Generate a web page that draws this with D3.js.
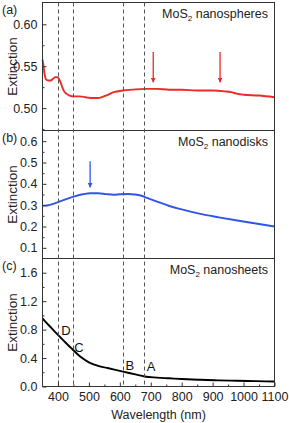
<!DOCTYPE html>
<html>
<head>
<meta charset="utf-8">
<script src="https://cdn.jsdelivr.net/npm/d3@7"></script>
<style>
  body { margin: 0; background: #fff; }
  svg text { font-family: "Liberation Sans", Arial, sans-serif; }
</style>
</head>
<body>
<svg id="chart" width="289" height="423"></svg>
<script>
// ---- data ----
const spheresWl  = [350, 353, 357, 362, 368, 376, 384, 392, 398, 403, 408, 414, 420, 428, 438, 450, 470, 490, 510, 530, 555, 580, 610, 640, 680, 720, 760, 800, 850, 900, 940, 960, 980, 1000, 1050, 1100];
const spheresExt = [0.558, 0.551, 0.540, 0.534, 0.533, 0.533, 0.535, 0.537, 0.537, 0.535, 0.531, 0.525, 0.520, 0.517, 0.515, 0.514, 0.514, 0.513, 0.512, 0.512, 0.515, 0.519, 0.521, 0.522, 0.523, 0.523, 0.522, 0.522, 0.521, 0.521, 0.520, 0.519, 0.517, 0.516, 0.515, 0.513];

const disksWl  = [350, 360, 370, 385, 400, 420, 450, 480, 505, 530, 555, 580, 600, 625, 650, 670, 690, 720, 760, 800, 860, 920, 980, 1040, 1100];
const disksExt = [0.298, 0.298, 0.300, 0.306, 0.314, 0.325, 0.340, 0.351, 0.356, 0.356, 0.352, 0.349, 0.351, 0.352, 0.350, 0.344, 0.333, 0.317, 0.296, 0.280, 0.259, 0.243, 0.228, 0.214, 0.200];

const sheetsWl  = [350, 360, 375, 400, 425, 450, 475, 500, 530, 560, 610, 650, 680, 720, 760, 800, 860, 920, 980, 1040, 1100];
const sheetsExt = [0.957, 0.91, 0.84, 0.725, 0.615, 0.51, 0.41, 0.34, 0.29, 0.26, 0.21, 0.17, 0.14, 0.125, 0.115, 0.105, 0.094, 0.086, 0.08, 0.075, 0.07];

const dashedWl = [400, 450, 610, 678];

// arrows: [wavelength, top value, tip value]
const redArrows  = [[708, 0.567, 0.531], [924, 0.567, 0.531]];
const blueArrows = [[504, 0.506, 0.384]];

// peak labels on the nanosheet curve
const peakNames = ["D", "C", "B", "A"];
const peakWl    = [426, 468, 632, 701];
const peakExt   = [0.723, 0.49, 0.234, 0.213];

const xTicks = [400, 500, 600, 700, 800, 900, 1000, 1100];

// ---- layout ----
const svg = d3.select("#chart");
const left = 42.5, right = 274.5;
const tops = [2.5, 130.5, 258.5];
const panelH = 128;

const x = d3.scaleLinear().domain([350, 1100]).range([left, right]);

const panels = [
    { tag: "(a)", name: "nanospheres", domain: [0.4733, 0.626], major: [0.50, 0.55, 0.60], minor: [0.475, 0.525, 0.575], fmt: d3.format(".2f"),
      wl: spheresWl, ext: spheresExt, color: "#ee2a24", arrows: redArrows },
    { tag: "(b)", name: "nanodisks", domain: [0.05, 0.65], major: [0.1, 0.2, 0.3, 0.4, 0.5, 0.6], minor: [0.15, 0.25, 0.35, 0.45, 0.55], fmt: d3.format(".1f"),
      wl: disksWl, ext: disksExt, color: "#2f56e8", arrows: blueArrows },
    { tag: "(c)", name: "nanosheets", domain: [0, 1.8], major: [0, 0.4, 0.8, 1.2, 1.6], minor: [0.2, 0.6, 1.0, 1.4], fmt: d3.format(".1f"),
      wl: sheetsWl, ext: sheetsExt, color: "#000", arrows: [] }
];

const defs = svg.append("defs");

panels.forEach((p, i) => {
    const top = tops[i];
    const y = d3.scaleLinear().domain(p.domain).range([top + panelH, top]);
    const g = svg.append("g");

    // curve
    const pts = p.wl.map((w, k) => [w, p.ext[k]]);
    g.append("path")
        .datum(pts)
        .attr("fill", "none")
        .attr("stroke", p.color)
        .attr("stroke-width", 1.9)
        .attr("d", d3.line().x(d => x(d[0])).y(d => y(d[1])).curve(d3.curveMonotoneX));

    // y axis, ticks pointing inward
    const yAxis = g.append("g").attr("transform", "translate(" + left + ",0)")
        .call(d3.axisLeft(y).tickValues(p.major).tickSize(-4).tickPadding(5).tickFormat(p.fmt));
    yAxis.select(".domain").remove();
    yAxis.selectAll("text").attr("font-size", "12.5px").attr("fill", "#222");
    yAxis.selectAll("line").attr("stroke", "#333");

    const yMinor = g.append("g").attr("transform", "translate(" + left + ",0)")
        .call(d3.axisLeft(y).tickValues(p.minor).tickSize(-2).tickFormat(""));
    yMinor.select(".domain").remove();
    yMinor.selectAll("line").attr("stroke", "#333");

    // arrows
    p.arrows.forEach((a, k) => {
        const id = "head" + i + "_" + k;
        defs.append("marker")
            .attr("id", id)
            .attr("viewBox", "0 0 10 10")
            .attr("refX", 9).attr("refY", 5)
            .attr("markerWidth", 5).attr("markerHeight", 5)
            .attr("markerUnits", "userSpaceOnUse")
            .attr("orient", "auto")
            .append("path").attr("d", "M0,0L10,5L0,10Z").attr("fill", p.color);
        g.append("line")
            .attr("x1", x(a[0])).attr("x2", x(a[0]))
            .attr("y1", y(a[1])).attr("y2", y(a[2]))
            .attr("stroke", p.color).attr("stroke-width", 1.3)
            .attr("marker-end", "url(#" + id + ")");
    });

    // panel tag and sample name
    svg.append("text").attr("x", 2).attr("y", top + 11)
        .attr("font-size", "12.5px").attr("fill", "#222").text(p.tag);
    const t = svg.append("text").attr("x", 268).attr("y", top + 15)
        .attr("text-anchor", "end").attr("font-size", "12.5px").attr("fill", "#222");
    t.append("tspan").text("MoS");
    t.append("tspan").attr("font-size", "8px").attr("dy", 3).text("2");
    t.append("tspan").attr("dy", -3).text(" " + p.name);

    // y title
    svg.append("text")
        .attr("transform", "translate(16.5," + (top + panelH / 2) + ") rotate(-90)")
        .attr("text-anchor", "middle").attr("font-size", "13.5px").attr("fill", "#222")
        .text("Extinction");

    // frame
    svg.append("rect")
        .attr("x", left).attr("y", top).attr("width", right - left).attr("height", panelH)
        .attr("fill", "none").attr("stroke", "#333").attr("stroke-width", 1);

    if (i === 2) {
        peakNames.forEach((n, k) => {
            svg.append("text").attr("x", x(peakWl[k])).attr("y", y(peakExt[k]))
                .attr("text-anchor", "middle").attr("font-size", "13px").attr("fill", "#111").text(n);
        });
    }
});

// dashed guide lines across all panels
svg.append("g").selectAll("line")
    .data(dashedWl)
    .join("line")
    .attr("x1", d => Math.round(x(d)) + 0.5).attr("x2", d => Math.round(x(d)) + 0.5)
    .attr("y1", tops[0]).attr("y2", tops[2] + panelH)
    .attr("stroke", "#555").attr("stroke-width", 1).attr("stroke-dasharray", "4,3");

// bottom x axis
const bottom = tops[2] + panelH;
const xAxis = svg.append("g").attr("transform", "translate(0," + bottom + ")")
    .call(d3.axisBottom(x).tickValues(xTicks).tickSize(-4).tickPadding(6).tickFormat(d3.format("d")));
xAxis.select(".domain").remove();
xAxis.selectAll("text").attr("font-size", "12.5px").attr("fill", "#222");
xAxis.selectAll("line").attr("stroke", "#333");

const xMinor = svg.append("g").attr("transform", "translate(0," + bottom + ")")
    .call(d3.axisBottom(x).tickValues(d3.range(450, 1100, 100)).tickSize(-2).tickFormat(""));
xMinor.select(".domain").remove();
xMinor.selectAll("line").attr("stroke", "#333");

svg.append("text").attr("x", (left + right) / 2).attr("y", 419)
    .attr("text-anchor", "middle").attr("font-size", "12.5px").attr("fill", "#222")
    .text("Wavelength (nm)");
</script>
</body>
</html>
